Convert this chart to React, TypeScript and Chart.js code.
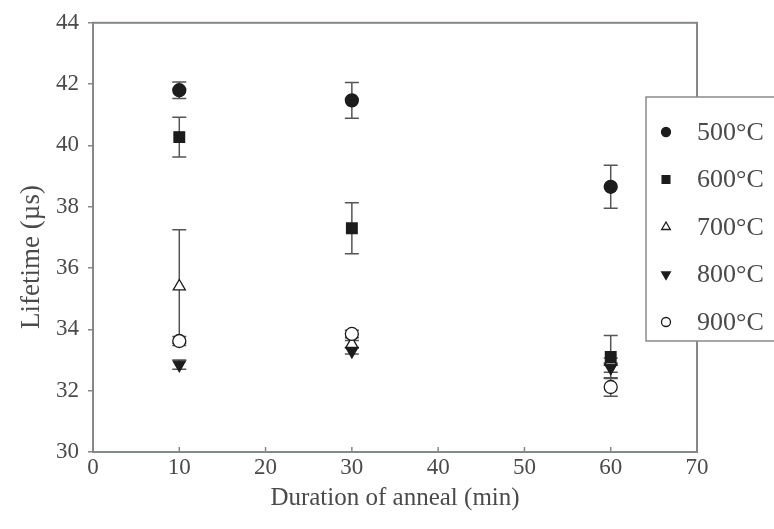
import React, { useEffect, useRef } from 'react';
import { Chart, registerables } from 'chart.js';
import { drawPoint } from 'chart.js/helpers';

Chart.register(...registerables);

// ---- data ----
const durations = [10, 30, 60];
const seriesLabels = ['500°C', '600°C', '700°C', '800°C', '900°C'];
const mean500 = [41.8, 41.47, 38.65];
const err500 = [0.27, 0.58, 0.7];
const mean600 = [40.27, 37.3, 33.1];
const err600 = [0.65, 0.83, 0.7];
const mean700 = [35.4, 33.52, 32.95];
const err700 = [1.85, 0.12, 0.12];
const mean800 = [32.85, 33.3, 32.75];
const err800 = [0.15, 0.1, 0.15];
const mean900 = [33.62, 33.85, 32.12];
const err900 = [0.15, 0.12, 0.3];
const xTicks = [0, 10, 20, 30, 40, 50, 60, 70];
const yTicks = [30, 32, 34, 36, 38, 40, 42, 44];
const xTitle = 'Duration of anneal (min)';
const yTitle = 'Lifetime (µs)';

const FONT = '"Liberation Serif", "Times New Roman", serif';
const AXIS_COLOR = '#858985';
const TEXT_COLOR = '#4a4a4a';

const means = [mean500, mean600, mean700, mean800, mean900];
const errs = [err500, err600, err700, err800, err900];
const pointStyles: any[] = ['circle', 'rect', 'triangle', 'triangle', 'circle'];
const rotations = [0, 0, 0, 180, 0];
const radii = [6.5, 7.5, 7, 7, 6.5];
const fills = ['#1c1c1c', '#1c1c1c', '#ffffff', '#1c1c1c', '#ffffff'];
const orders = [0, 1, 4, 2, 3];
const legendRadii = [4.5, 5.5, 5, 5, 4.5];

const errorBarPlugin = {
  id: 'errorBars',
  beforeDatasetsDraw(chart: any) {
    const { ctx } = chart;
    const xs = chart.scales.x;
    const ys = chart.scales.y;
    ctx.save();
    ctx.strokeStyle = '#555555';
    ctx.lineWidth = 1.5;
    means.forEach((arr, i) => {
      arr.forEach((m, j) => {
        const e = errs[i][j];
        const px = xs.getPixelForValue(durations[j]);
        const pt = ys.getPixelForValue(m + e);
        const pb = ys.getPixelForValue(m - e);
        const cap = 7;
        ctx.beginPath();
        ctx.moveTo(px, pt);
        ctx.lineTo(px, pb);
        ctx.moveTo(px - cap, pt);
        ctx.lineTo(px + cap, pt);
        ctx.moveTo(px - cap, pb);
        ctx.lineTo(px + cap, pb);
        ctx.stroke();
      });
    });
    ctx.restore();
  },
};

const framePlugin = {
  id: 'frameAndLegend',
  afterDraw(chart: any) {
    const { ctx, chartArea } = chart;
    const { left, top, right, bottom } = chartArea;
    const xs = chart.scales.x;
    ctx.save();
    // frame
    ctx.strokeStyle = AXIS_COLOR;
    ctx.lineWidth = 2;
    ctx.strokeRect(left, top, right - left, bottom - top);
    // inward x ticks
    ctx.lineWidth = 1.5;
    ctx.beginPath();
    xTicks.forEach((v) => {
      const px = xs.getPixelForValue(v);
      ctx.moveTo(px, bottom);
      ctx.lineTo(px, bottom - 5);
    });
    ctx.stroke();

    // y axis title
    ctx.save();
    ctx.translate(32, 257);
    ctx.rotate(-Math.PI / 2);
    ctx.font = `27px ${FONT}`;
    ctx.fillStyle = TEXT_COLOR;
    ctx.textAlign = 'center';
    ctx.textBaseline = 'middle';
    ctx.fillText(yTitle, 0, 0);
    ctx.restore();

    // legend
    const lx = 646;
    const ly = 97;
    const lw = 150;
    const lh = 244;
    ctx.fillStyle = '#ffffff';
    ctx.fillRect(lx, ly, lw, lh);
    ctx.strokeStyle = '#8a8a8a';
    ctx.lineWidth = 1.5;
    ctx.strokeRect(lx, ly, lw, lh);
    ctx.font = `26px ${FONT}`;
    ctx.textBaseline = 'middle';
    ctx.textAlign = 'left';
    seriesLabels.forEach((lab, i) => {
      const y = ly + 35 + i * 47.5;
      ctx.fillStyle = fills[i];
      ctx.strokeStyle = '#1c1c1c';
      ctx.lineWidth = 1.3;
      drawPoint(ctx, { pointStyle: pointStyles[i], rotation: rotations[i], radius: legendRadii[i], borderWidth: 1.3 }, 666, y);
      ctx.fillStyle = TEXT_COLOR;
      ctx.fillText(lab, 697, y + 1);
    });
    ctx.restore();
  },
};

export default function App() {
  const ref = useRef<HTMLCanvasElement>(null);
  useEffect(() => {
    const canvas = ref.current;
    if (!canvas) return;
    const chart = new Chart(canvas, {
      type: 'scatter',
      data: {
        datasets: seriesLabels.map((label, i) => ({
          label,
          data: durations.map((d, j) => ({ x: d, y: means[i][j] })),
          pointStyle: pointStyles[i],
          pointRotation: rotations[i],
          pointRadius: radii[i],
          pointHoverRadius: radii[i],
          pointBackgroundColor: fills[i],
          pointBorderColor: '#1c1c1c',
          pointBorderWidth: 1.3,
          showLine: false,
          order: orders[i],
        })),
      },
      options: {
        animation: false,
        responsive: false,
        devicePixelRatio: 1,
        layout: { padding: { top: 19, right: 77, left: 0, bottom: 0 } },
        plugins: { legend: { display: false }, tooltip: { enabled: false } },
        scales: {
          x: {
            type: 'linear',
            min: 0,
            max: 70,
            afterBuildTicks: (s: any) => {
              s.ticks = xTicks.map((v) => ({ value: v }));
            },
            afterFit: (s: any) => {
              s.height = 77;
            },
            ticks: {
              font: { family: FONT, size: 23 },
              color: TEXT_COLOR,
              padding: 2,
              maxRotation: 0,
            },
            grid: { drawOnChartArea: false, drawTicks: false },
            border: { display: false },
            title: {
              display: true,
              text: xTitle,
              font: { family: FONT, size: 25 },
              color: TEXT_COLOR,
              padding: { top: 0, bottom: 16 },
            },
          },
          y: {
            type: 'linear',
            min: 30,
            max: 44,
            afterBuildTicks: (s: any) => {
              s.ticks = yTicks.map((v) => ({ value: v }));
            },
            afterFit: (s: any) => {
              s.width = 93;
            },
            ticks: {
              font: { family: FONT, size: 23 },
              color: TEXT_COLOR,
              padding: 9,
            },
            grid: {
              drawOnChartArea: false,
              drawTicks: true,
              tickLength: 5,
              color: AXIS_COLOR,
              lineWidth: 1.5,
            },
            border: { display: false },
            title: { display: false },
          },
        },
      },
      plugins: [errorBarPlugin, framePlugin],
    } as any);
    return () => chart.destroy();
  }, []);
  return (
    <div style={{ position: 'absolute', left: 0, top: 0, width: 774, height: 529, background: '#ffffff' }}>
      <canvas ref={ref} width={774} height={529} style={{ display: 'block' }} />
    </div>
  );
}
